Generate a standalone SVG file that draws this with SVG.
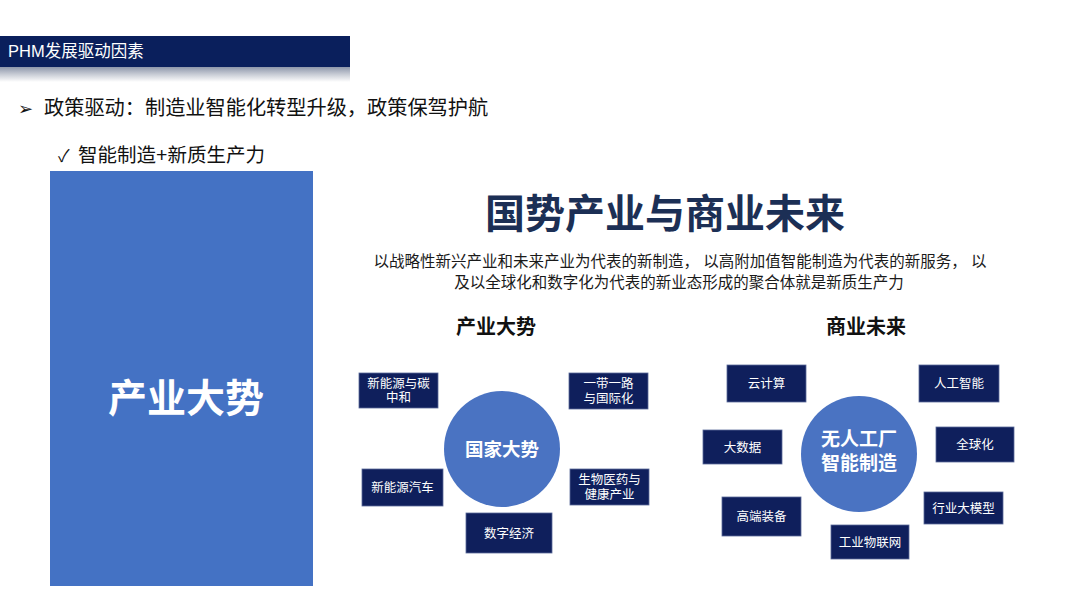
<svg xmlns="http://www.w3.org/2000/svg" width="1080" height="608" viewBox="0 0 1080 608">
<defs>
<linearGradient id="refl" x1="0" y1="0" x2="0" y2="1">
<stop offset="0" stop-color="#8e97ab"/>
<stop offset="0.5" stop-color="#c9cdd6"/>
<stop offset="1" stop-color="#ffffff"/>
</linearGradient>
<style>
.cjk{font-family:"Liberation Sans","Noto Sans CJK SC",sans-serif;}
.box{fill:#0f1f5c;stroke:#5a6a9a;stroke-width:0.8;}
.bt{fill:#ffffff;font-size:12.5px;text-anchor:middle;}
.circ{fill:#4a73c2;}
.ct{fill:#ffffff;font-weight:bold;text-anchor:middle;}
</style>
</defs>
<rect width="1080" height="608" fill="#ffffff"/>
<g id="header">
<rect x="0" y="36" width="350" height="31" fill="#0a1f5c"/>
<rect x="0" y="67" width="350" height="15" fill="url(#refl)"/>
<text x="8" y="57" class="cjk" font-size="16.5" fill="#ffffff">PHM发展驱动因素</text>
</g>
<g id="bullets" class="cjk" fill="#111111">
<text x="18" y="115" font-size="18">➢</text>
<text x="44" y="115" font-size="20.2">政策驱动：制造业智能化转型升级，政策保驾护航</text>
<text x="58" y="162" font-size="17">✓</text>
<text x="78" y="162" font-size="19.5">智能制造+新质生产力</text>
</g>
<g id="left-panel">
<rect x="50" y="171" width="263" height="415" fill="#4472c4"/>
<text x="186" y="412" class="cjk" font-size="39" font-weight="bold" fill="#ffffff" text-anchor="middle">产业大势</text>
</g>
<g id="title" class="cjk">
<text x="665" y="228" font-size="40" font-weight="bold" fill="#1c2f55" text-anchor="middle">国势产业与商业未来</text>
<text x="680" y="267" font-size="15.5" fill="#1a1a1a" text-anchor="middle">以战略性新兴产业和未来产业为代表的新制造， 以高附加值智能制造为代表的新服务， 以</text>
<text x="679" y="288" font-size="15.5" fill="#1a1a1a" text-anchor="middle">及以全球化和数字化为代表的新业态形成的聚合体就是新质生产力</text>
<text x="496" y="334" font-size="20" font-weight="bold" fill="#111111" text-anchor="middle">产业大势</text>
<text x="866" y="334" font-size="20" font-weight="bold" fill="#111111" text-anchor="middle">商业未来</text>
</g>
<g id="connectors"></g>
<g id="hub-guojia" class="cjk">
<circle cx="502" cy="449" r="58" class="circ"/>
<text x="502" y="456" font-size="18.5" class="ct">国家大势</text>
</g>
<g id="n-xinnengyuan-tan" class="cjk">
<rect x="359" y="373" width="79" height="35" class="box"/>
<text x="398.5" y="388" class="bt">新能源与碳</text>
<text x="398.5" y="402" class="bt">中和</text>
</g>
<g id="n-yidaiyilu" class="cjk">
<rect x="569" y="373" width="79" height="36" class="box"/>
<text x="608.5" y="388" class="bt">一带一路</text>
<text x="608.5" y="403" class="bt">与国际化</text>
</g>
<g id="n-qiche" class="cjk">
<rect x="362" y="469" width="81" height="37" class="box"/>
<text x="402.5" y="492" class="bt">新能源汽车</text>
</g>
<g id="n-shengwu" class="cjk">
<rect x="570" y="469" width="79" height="36" class="box"/>
<text x="609.5" y="484" class="bt">生物医药与</text>
<text x="609.5" y="499" class="bt">健康产业</text>
</g>
<g id="n-shuzi" class="cjk">
<rect x="466" y="513" width="86" height="40" class="box"/>
<text x="509" y="538" class="bt">数字经济</text>
</g>
<g id="hub-wuren" class="cjk">
<circle cx="859" cy="454" r="58" class="circ"/>
<text x="859" y="446" font-size="19" class="ct">无人工厂</text>
<text x="859" y="470" font-size="19" class="ct">智能制造</text>
</g>
<g id="n-yunjisuan" class="cjk">
<rect x="727" y="365" width="79" height="37" class="box"/>
<text x="766.5" y="388" class="bt">云计算</text>
</g>
<g id="n-rengong" class="cjk">
<rect x="919" y="365" width="80" height="37" class="box"/>
<text x="959" y="388" class="bt">人工智能</text>
</g>
<g id="n-dashuju" class="cjk">
<rect x="703" y="430" width="79" height="34" class="box"/>
<text x="742.5" y="452" class="bt">大数据</text>
</g>
<g id="n-quanqiu" class="cjk">
<rect x="936" y="427" width="78" height="35" class="box"/>
<text x="975" y="449" class="bt">全球化</text>
</g>
<g id="n-gaoduan" class="cjk">
<rect x="722" y="497" width="79" height="39" class="box"/>
<text x="761.5" y="521" class="bt">高端装备</text>
</g>
<g id="n-hangye" class="cjk">
<rect x="924" y="492" width="79" height="32" class="box"/>
<text x="963.5" y="513" class="bt">行业大模型</text>
</g>
<g id="n-wulian" class="cjk">
<rect x="831" y="525" width="78" height="34" class="box"/>
<text x="870" y="547" class="bt">工业物联网</text>
</g>
</svg>
